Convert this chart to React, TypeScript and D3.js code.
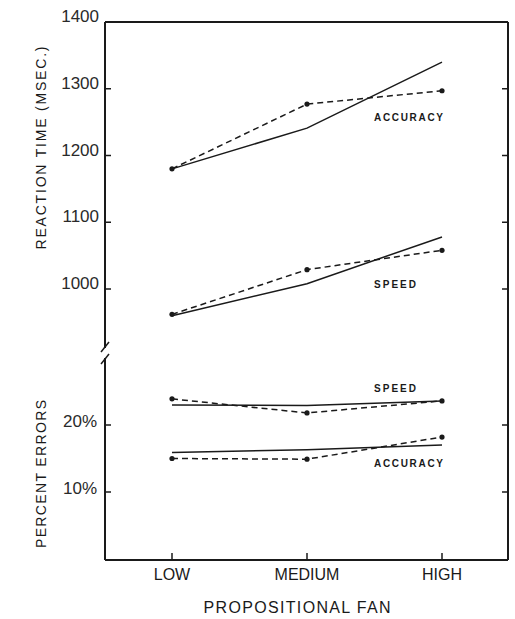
import * as d3 from "d3";

const fanLevels = ["LOW", "MEDIUM", "HIGH"];

// reaction time (msec)
const rtAccuracySolid = [1180, 1241, 1340];
const rtAccuracyDashed = [1180, 1277, 1297];
const rtSpeedSolid = [960, 1008, 1078];
const rtSpeedDashed = [962, 1029, 1058];

// percent errors
const errSpeedSolid = [23.0, 22.9, 23.6];
const errSpeedDashed = [23.9, 21.8, 23.6];
const errAccuracySolid = [15.9, 16.3, 17.0];
const errAccuracyDashed = [15.0, 14.9, 18.2];

const rtTicks = [1400, 1300, 1200, 1100, 1000];
const errTicks = [20, 10];

const W = 515;
const H = 619;
const left = 105;
const right = 508;
const top = 22;
const bottom = 560;
const breakY = 353;

const FONT = "'Liberation Sans', Arial, sans-serif";
const INK = "#1a1a1a";

export default function App() {
  const x = d3.scalePoint<string>().domain(fanLevels).range([172, 442]);
  const yRT = d3.scaleLinear().domain([1000, 1400]).range([289, 22]);
  const yErr = d3.scaleLinear().domain([0, 20]).range([559, 425]);

  const rtLine = d3
    .line<number>()
    .x((_, i) => x(fanLevels[i])!)
    .y((d) => yRT(d));
  const errLine = d3
    .line<number>()
    .x((_, i) => x(fanLevels[i])!)
    .y((d) => yErr(d));

  const solid = [rtLine(rtAccuracySolid), rtLine(rtSpeedSolid), errLine(errSpeedSolid), errLine(errAccuracySolid)];
  const dashed = [
    { d: rtLine(rtAccuracyDashed), pts: rtAccuracyDashed.map((v, i) => [x(fanLevels[i])!, yRT(v)]) },
    { d: rtLine(rtSpeedDashed), pts: rtSpeedDashed.map((v, i) => [x(fanLevels[i])!, yRT(v)]) },
    { d: errLine(errSpeedDashed), pts: errSpeedDashed.map((v, i) => [x(fanLevels[i])!, yErr(v)]) },
    { d: errLine(errAccuracyDashed), pts: errAccuracyDashed.map((v, i) => [x(fanLevels[i])!, yErr(v)]) },
  ];

  // curve labels placed near the HIGH end
  const labels = [
    { text: "ACCURACY", y: yRT(1252), len: 69 },
    { text: "SPEED", y: yRT(1001), len: 42 },
    { text: "SPEED", y: yErr(25), len: 42 },
    { text: "ACCURACY", y: yErr(13.7), len: 69 },
  ];

  return (
    <svg
      width={W}
      height={H}
      style={{ position: "absolute", left: 0, top: 0, background: "#fff" }}
      fontFamily={FONT}
    >
      {/* frame */}
      <g stroke={INK} strokeWidth={2} fill="none">
        <line x1={left} y1={top} x2={right} y2={top} />
        <line x1={right} y1={top} x2={right} y2={bottom} />
        <line x1={left} y1={bottom} x2={right} y2={bottom} />
        <line x1={left} y1={top} x2={left} y2={breakY - 5} />
        <line x1={left} y1={breakY + 5} x2={left} y2={bottom} />
        <line x1={101} y1={breakY - 1} x2={109} y2={breakY - 11} strokeWidth={1.5} />
        <line x1={101} y1={breakY + 11} x2={109} y2={breakY + 1} strokeWidth={1.5} />
      </g>

      {/* ticks */}
      <g stroke={INK} strokeWidth={1.5}>
        {rtTicks.slice(1).map((t) => (
          <g key={"rt" + t}>
            <line x1={left} x2={left + 6} y1={yRT(t)} y2={yRT(t)} />
            <line x1={right - 6} x2={right} y1={yRT(t)} y2={yRT(t)} />
          </g>
        ))}
        {errTicks.map((t) => (
          <g key={"e" + t}>
            <line x1={left} x2={left + 6} y1={yErr(t)} y2={yErr(t)} />
            <line x1={right - 6} x2={right} y1={yErr(t)} y2={yErr(t)} />
          </g>
        ))}
        {fanLevels.map((f) => (
          <line key={f} x1={x(f)} x2={x(f)} y1={bottom} y2={bottom - 7} />
        ))}
      </g>

      {/* y tick labels */}
      <g fill="#2a2a2a" fontSize={17} textAnchor="end">
        {rtTicks.map((t) => (
          <text key={t} x={99} y={yRT(t)}>
            {t}
          </text>
        ))}
        {errTicks.map((t) => (
          <text key={t} x={97} y={yErr(t) + 2}>
            {t}%
          </text>
        ))}
      </g>

      {/* axis titles */}
      <text
        transform="translate(46,148) rotate(-90)"
        textAnchor="middle"
        fontSize={14}
        fill={INK}
        textLength={203}
        lengthAdjust="spacing"
      >
        REACTION TIME (MSEC.)
      </text>
      <text
        transform="translate(46,474) rotate(-90)"
        textAnchor="middle"
        fontSize={14}
        fill={INK}
        textLength={148}
        lengthAdjust="spacing"
      >
        PERCENT ERRORS
      </text>

      {/* x labels */}
      <g fill={INK} fontSize={16} textAnchor="middle">
        {fanLevels.map((f) => (
          <text key={f} x={x(f)} y={580}>
            {f}
          </text>
        ))}
      </g>
      <text x={297} y={613} textAnchor="middle" fontSize={16} fill={INK} textLength={187} lengthAdjust="spacing">
        PROPOSITIONAL FAN
      </text>

      {/* series */}
      <g fill="none" stroke={INK} strokeWidth={1.5}>
        {solid.map((d, i) => (
          <path key={i} d={d!} />
        ))}
        {dashed.map((s, i) => (
          <path key={i} d={s.d!} strokeDasharray="6,4" />
        ))}
      </g>
      <g fill={INK}>
        {dashed.map((s, i) =>
          s.pts.map((p, j) => <circle key={i + "-" + j} cx={p[0]} cy={p[1]} r={2.6} />)
        )}
      </g>

      {/* curve labels */}
      <g fill={INK} fontSize={10} fontWeight="bold">
        {labels.map((l, i) => (
          <text key={i} x={374} y={l.y} textLength={l.len} lengthAdjust="spacing">
            {l.text}
          </text>
        ))}
      </g>
    </svg>
  );
}
